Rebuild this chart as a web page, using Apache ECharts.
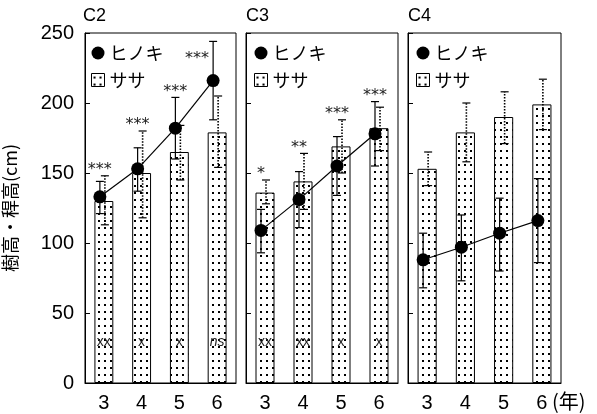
<!DOCTYPE html>
<html>
<head>
<meta charset="utf-8">
<script src="https://cdn.jsdelivr.net/npm/echarts/dist/echarts.min.js"></script>
<style>
  html, body { margin: 0; background: #fff; }
  #chart { width: 597px; height: 414px; }
</style>
</head>
<body>
<div id="chart"></div>
<script>
// 年次 (x軸)
const years = ['3', '4', '5', '6'];
const panelNames = ['C2', 'C3', 'C4'];

// ヒノキ 樹高 (平均, 下限, 上限)
const hinokiMean = [[133, 153, 182, 216], [109, 131, 155, 178], [88, 97, 107, 116]];
const hinokiLo = [[121, 137, 160, 188], [93, 111, 134, 155], [68, 73, 80, 86]];
const hinokiHi = [[144, 168, 204, 244], [124, 151, 176, 201], [107, 120, 132, 146]];

// ササ 稈高 (平均, 下限, 上限)
const sasaMean = [[130, 150, 165, 179], [136, 144, 169, 182], [153, 179, 190, 199]];
const sasaLo = [[113, 118, 145, 154], [128, 124, 150, 166], [141, 158, 171, 181]];
const sasaHi = [[148, 180, 184, 205], [145, 164, 188, 197], [165, 200, 208, 217]];

// 有意差の記号
const sigTop = [['***', '***', '***', '***'], ['*', '**', '***', '***'], ['', '', '', '']];
const sigBottom = [['xx', 'x', 'x', 'ns'], ['xx', 'xx', 'x', 'x'], ['', '', '', '']];

const DX = -4; // ヒノキの点をずらす
const numFont = 'Liberation Sans';
const jpFont = 'Noto Sans CJK JP';

const dotPattern = (() => {
    const c = document.createElement('canvas');
    c.width = 6;
    c.height = 7;
    const g = c.getContext('2d');
    g.fillStyle = '#fff';
    g.fillRect(0, 0, 6, 7);
    g.fillStyle = '#000';
    g.fillRect(2, 3, 2, 2);
    return c;
})();
const patternFill = { image: dotPattern, repeat: 'repeat' };

const gridPos = [{ left: 83, width: 153 }, { left: 246, width: 152 }, { left: 408, width: 153 }];

function errorBar(dx, dotted) {
    return function (params, api) {
        const lo = api.coord([api.value(0), api.value(1)]);
        const hi = api.coord([api.value(0), api.value(2)]);
        const x = lo[0] + dx;
        const capStyle = { stroke: '#000', lineWidth: 1.2 };
        return {
            type: 'group',
            children: [
                { type: 'line', shape: { x1: x, y1: lo[1], x2: x, y2: hi[1] },
                  style: { stroke: '#000', lineWidth: dotted ? 1.6 : 1.2, lineDash: dotted ? [1.5, 1.5] : null } },
                { type: 'line', shape: { x1: x - 4, y1: hi[1], x2: x + 4, y2: hi[1] }, style: capStyle },
                { type: 'line', shape: { x1: x - 4, y1: lo[1], x2: x + 4, y2: lo[1] }, style: capStyle }
            ]
        };
    };
}

function hinokiLine(p) {
    return function (params, api) {
        const i = api.value(0);
        const pt = api.coord([i, api.value(1)]);
        const children = [];
        if (i < years.length - 1) {
            const next = api.coord([i + 1, hinokiMean[p][i + 1]]);
            children.push({ type: 'line', shape: { x1: pt[0] + DX, y1: pt[1], x2: next[0] + DX, y2: next[1] },
                            style: { stroke: '#000', lineWidth: 1.2 } });
        }
        children.push({ type: 'circle', shape: { cx: pt[0] + DX, cy: pt[1], r: 6.5 }, style: { fill: '#000' } });
        return { type: 'group', children };
    };
}

function sigLabels(p) {
    return function (params, api) {
        const i = api.value(0);
        const top = api.coord([i, api.value(1)]);
        const base = api.coord([i, 0]);
        const children = [];
        if (sigTop[p][i]) {
            let x = top[0] + DX, y = top[1] - 6;
            if (api.value(1) > 235) { // 枠にかかるときは左へ
                x = top[0] - 20;
                y = top[1] + 17;
            }
            children.push({ type: 'text', x, y,
                style: { text: sigTop[p][i], align: 'center', verticalAlign: 'middle', fill: '#222',
                         fontSize: 16, fontFamily: 'DejaVu Sans' } });
        }
        if (sigBottom[p][i]) {
            children.push({ type: 'text', x: base[0], y: base[1] - 41,
                style: { text: sigBottom[p][i], align: 'center', verticalAlign: 'middle', fill: '#222',
                         fontSize: 14, fontFamily: numFont,
                         fontStyle: sigBottom[p][i] === 'ns' ? 'italic' : 'normal' } });
        }
        return { type: 'group', children };
    };
}

const series = [];
panelNames.forEach((name, p) => {
    series.push({
        name: 'ササ', type: 'bar', xAxisIndex: p, yAxisIndex: p,
        data: sasaMean[p], barWidth: '50%', z: 2,
        itemStyle: { color: patternFill, borderColor: '#000', borderWidth: 1 }
    });
    series.push({
        name: 'ササ誤差', type: 'custom', xAxisIndex: p, yAxisIndex: p, z: 3,
        data: sasaLo[p].map((lo, i) => [i, lo, sasaHi[p][i]]),
        encode: { x: 0, y: [1, 2] }, renderItem: errorBar(1, true)
    });
    series.push({
        name: 'ヒノキ誤差', type: 'custom', xAxisIndex: p, yAxisIndex: p, z: 4,
        data: hinokiLo[p].map((lo, i) => [i, lo, hinokiHi[p][i]]),
        encode: { x: 0, y: [1, 2] }, renderItem: errorBar(DX, false)
    });
    series.push({
        name: 'ヒノキ', type: 'custom', xAxisIndex: p, yAxisIndex: p, z: 5,
        data: hinokiMean[p].map((v, i) => [i, v]),
        encode: { x: 0, y: 1 }, renderItem: hinokiLine(p)
    });
    series.push({
        name: '有意差', type: 'custom', xAxisIndex: p, yAxisIndex: p, z: 6,
        data: years.map((_, i) => [i, Math.max(hinokiHi[p][i], sasaHi[p][i])]),
        encode: { x: 0, y: 1 }, renderItem: sigLabels(p)
    });
});

const chart = echarts.init(document.getElementById('chart'), null, { renderer: 'canvas' });
chart.setOption({
    animation: false,
    backgroundColor: '#fff',
    title: panelNames.map((t, p) => ({
        text: t, left: gridPos[p].left, top: 7, padding: 0,
        textStyle: { fontSize: 18, fontWeight: 'normal', color: '#000', fontFamily: numFont }
    })),
    legend: gridPos.map(g => ({
        left: g.left + 8, top: 42, orient: 'vertical', padding: 0, itemGap: 5,
        itemWidth: 13, itemHeight: 13, selectedMode: false,
        textStyle: { fontSize: 18, fontFamily: jpFont, color: '#000', lineHeight: 22 },
        data: [
            { name: 'ヒノキ', icon: 'circle', itemStyle: { color: '#000' } },
            { name: 'ササ', icon: 'rect', itemStyle: { color: patternFill, borderColor: '#000', borderWidth: 1 } }
        ]
    })),
    grid: gridPos.map(g => ({
        left: g.left, width: g.width, top: 33, height: 350,
        show: true, borderColor: '#000', borderWidth: 1
    })),
    xAxis: gridPos.map((g, p) => ({
        type: 'category', gridIndex: p, data: years,
        axisLine: { lineStyle: { color: '#000' } },
        axisTick: { inside: true, length: 4, alignWithLabel: true, lineStyle: { color: '#000' } },
        axisLabel: { fontSize: 20, color: '#000', margin: 10, fontFamily: numFont }
    })),
    yAxis: gridPos.map((g, p) => ({
        type: 'value', gridIndex: p, min: 0, max: 250, interval: 50,
        splitLine: { show: false },
        axisLine: { show: true, lineStyle: { color: '#000' } },
        axisTick: { show: true, inside: true, length: 5, lineStyle: { color: '#000' } },
        axisLabel: { show: p === 0, fontSize: 20, color: '#000', margin: 11, fontFamily: numFont },
        name: p === 0 ? '樹高・稈高(cm)' : '',
        nameLocation: 'middle', nameGap: 66, nameRotate: 90,
        nameTextStyle: { fontSize: 18, color: '#000', fontFamily: jpFont }
    })),
    graphic: [{
        type: 'text', left: 552, top: 391,
        style: { text: '(年)', fontSize: 20, fill: '#000', fontFamily: jpFont }
    }],
    series
});
</script>
</body>
</html>
